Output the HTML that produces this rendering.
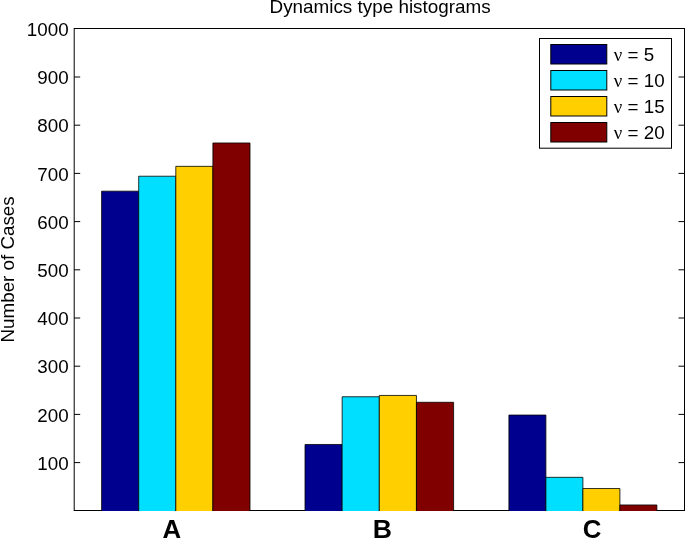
<!DOCTYPE html>
<html lang="en"><head><meta charset="utf-8"><title>Dynamics type histograms</title>
<style>html,body{margin:0;padding:0;background:#fff;}body{width:685px;height:539px;position:relative;overflow:hidden;}</style></head>
<body>
<svg width="685" height="539" viewBox="0 0 685 539" style="position:absolute;left:0;top:0;display:block">
<rect x="0" y="0" width="685" height="539" fill="#fff"/>
<g stroke="#000" stroke-width="1" fill="none">
<rect x="74.2" y="28.5" width="610.3" height="482.0"/>
<line x1="74.2" y1="462.60" x2="80.2" y2="462.60"/>
<line x1="678.5" y1="462.60" x2="684.5" y2="462.60"/>
<line x1="74.2" y1="414.40" x2="80.2" y2="414.40"/>
<line x1="678.5" y1="414.40" x2="684.5" y2="414.40"/>
<line x1="74.2" y1="366.20" x2="80.2" y2="366.20"/>
<line x1="678.5" y1="366.20" x2="684.5" y2="366.20"/>
<line x1="74.2" y1="318.00" x2="80.2" y2="318.00"/>
<line x1="678.5" y1="318.00" x2="684.5" y2="318.00"/>
<line x1="74.2" y1="269.80" x2="80.2" y2="269.80"/>
<line x1="678.5" y1="269.80" x2="684.5" y2="269.80"/>
<line x1="74.2" y1="221.60" x2="80.2" y2="221.60"/>
<line x1="678.5" y1="221.60" x2="684.5" y2="221.60"/>
<line x1="74.2" y1="173.40" x2="80.2" y2="173.40"/>
<line x1="678.5" y1="173.40" x2="684.5" y2="173.40"/>
<line x1="74.2" y1="125.20" x2="80.2" y2="125.20"/>
<line x1="678.5" y1="125.20" x2="684.5" y2="125.20"/>
<line x1="74.2" y1="77.00" x2="80.2" y2="77.00"/>
<line x1="678.5" y1="77.00" x2="684.5" y2="77.00"/>
</g>
<g stroke="#000" stroke-width="0.8">
<path d="M101.60 511.0 V191.18 H138.70 V511.0" fill="#00008f"/>
<path d="M138.70 511.0 V176.23 H175.80 V511.0" fill="#00dfff"/>
<path d="M175.80 511.0 V166.35 H212.90 V511.0" fill="#ffcf00"/>
<path d="M212.90 511.0 V142.98 H250.00 V511.0" fill="#800000"/>
<path d="M305.00 511.0 V444.47 H342.15 V511.0" fill="#00008f"/>
<path d="M342.15 511.0 V396.75 H379.30 V511.0" fill="#00dfff"/>
<path d="M379.30 511.0 V395.45 H416.45 V511.0" fill="#ffcf00"/>
<path d="M416.45 511.0 V402.29 H453.60 V511.0" fill="#800000"/>
<path d="M508.90 511.0 V415.06 H545.90 V511.0" fill="#00008f"/>
<path d="M545.90 511.0 V477.34 H582.90 V511.0" fill="#00dfff"/>
<path d="M582.90 511.0 V488.52 H619.90 V511.0" fill="#ffcf00"/>
<path d="M619.90 511.0 V504.96 H656.90 V511.0" fill="#800000"/>
</g>
<rect x="539.5" y="38.5" width="132" height="109.7" fill="#fff" stroke="#000" stroke-width="1"/>
<rect x="550.8" y="44.5" width="56" height="19.5" fill="#00008f" stroke="#000" stroke-width="1"/>
<rect x="550.8" y="70.5" width="56" height="19.5" fill="#00dfff" stroke="#000" stroke-width="1"/>
<rect x="550.8" y="96.5" width="56" height="19.5" fill="#ffcf00" stroke="#000" stroke-width="1"/>
<rect x="550.8" y="122.5" width="56" height="19.5" fill="#800000" stroke="#000" stroke-width="1"/>
<g font-family="'Liberation Sans', sans-serif" font-size="18.8" fill="#000">
<text x="613.8" y="61.1"><tspan font-family="'Liberation Serif', serif">ν</tspan> = 5</text>
<text x="613.8" y="87.1"><tspan font-family="'Liberation Serif', serif">ν</tspan> = 10</text>
<text x="613.8" y="113.1"><tspan font-family="'Liberation Serif', serif">ν</tspan> = 15</text>
<text x="613.8" y="139.1"><tspan font-family="'Liberation Serif', serif">ν</tspan> = 20</text>
<text x="68.6" y="469.70" text-anchor="end">100</text>
<text x="68.6" y="421.50" text-anchor="end">200</text>
<text x="68.6" y="373.30" text-anchor="end">300</text>
<text x="68.6" y="325.10" text-anchor="end">400</text>
<text x="68.6" y="276.90" text-anchor="end">500</text>
<text x="68.6" y="228.70" text-anchor="end">600</text>
<text x="68.6" y="180.50" text-anchor="end">700</text>
<text x="68.6" y="132.30" text-anchor="end">800</text>
<text x="68.6" y="84.10" text-anchor="end">900</text>
<text x="68.6" y="35.90" text-anchor="end">1000</text>
<text x="380.1" y="13.4" font-size="18.87" text-anchor="middle">Dynamics type histograms</text>
<text transform="translate(14.0,269.4) rotate(-90)" text-anchor="middle">Number of Cases</text>
</g>
<g font-family="'Liberation Sans', sans-serif" font-size="26.6" font-weight="bold" fill="#000" text-anchor="middle">
<text transform="translate(171.8,538.1) scale(0.97,1)">A</text>
<text transform="translate(382.3,538.1) scale(1.0,1)">B</text>
<text transform="translate(592.0,538.1) scale(0.97,1)">C</text>
</g>
</svg>
</body></html>
